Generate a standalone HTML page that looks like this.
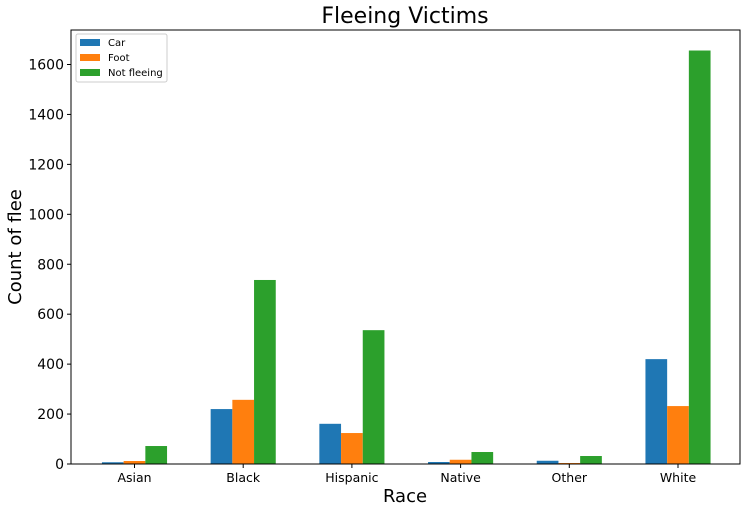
<!DOCTYPE html>
<html><head><meta charset="utf-8"><style>
body{margin:0;background:#fff;font-family:"Liberation Sans","DejaVu Sans",sans-serif}
svg text{font-family:"DejaVu Sans","Liberation Sans",sans-serif}
</style></head><body>
<svg id="c" width="748" height="513"></svg>
<script>
const categories=["Asian","Black","Hispanic","Native","Other","White"];
const carVals=[7,220,161,8,13,420];
const footVals=[12,257,124,17,4,232];
const notVals=[72,737,536,48,32,1656];
const yTicks=[0,200,400,600,800,1000,1200,1400,1600];
const seriesNames=["Car","Foot","Not fleeing"];
const colors=["#1f77b4","#ff7f0e","#2ca02c"];
const L=71,R=740,T=30,B=464;
const x=i=>134.5+i*108.7;
const y=v=>B-v*(399.5/1600);
const bw=21.7;
const s=document.getElementById('c');
const NS="http://www.w3.org/2000/svg";
function mk(t,a,txt){const e=document.createElementNS(NS,t);for(const k in a)e.setAttribute(k,a[k]);if(txt!==undefined)e.textContent=txt;s.appendChild(e);return e;}
[carVals,footVals,notVals].forEach((arr,si)=>{arr.forEach((v,i)=>{
const r=mk('rect',{x:x(i)+(si-1.5)*bw,y:y(v),width:bw,height:B-y(v),fill:colors[si]});


});});
const ax=mk('rect',{x:L,y:T,width:R-L,height:B-T,fill:'none',stroke:'#000','stroke-width':1});


yTicks.forEach(v=>{
mk('line',{x1:L-4,x2:L,y1:y(v),y2:y(v),stroke:'#000'});
const t=mk('text',{x:L-7,y:y(v)+5,'text-anchor':'end','font-size':14},v);


});
categories.forEach((c,i)=>{
mk('line',{x1:x(i),x2:x(i),y1:B,y2:B+4,stroke:'#000'});
const t=mk('text',{x:x(i),y:B+18,'text-anchor':'middle','font-size':12.5},c);


});
let t=mk('text',{x:405,y:23,'text-anchor':'middle','font-size':22},'Fleeing Victims');


t=mk('text',{x:405,y:502,'text-anchor':'middle','font-size':18},'Race');


t=mk('text',{x:21,y:247,'text-anchor':'middle','font-size':18,transform:'rotate(-90 21 247)'},'Count of flee');


const lg=mk('rect',{x:76,y:34,width:91,height:48,fill:'#fff',stroke:'#ccc',rx:2});


seriesNames.forEach((n,i)=>{
mk('rect',{x:80,y:39+i*15,width:20,height:7,fill:colors[i]});
const e=mk('text',{x:108,y:46+i*15,'font-size':10},n);


});
</script>
</body></html>
